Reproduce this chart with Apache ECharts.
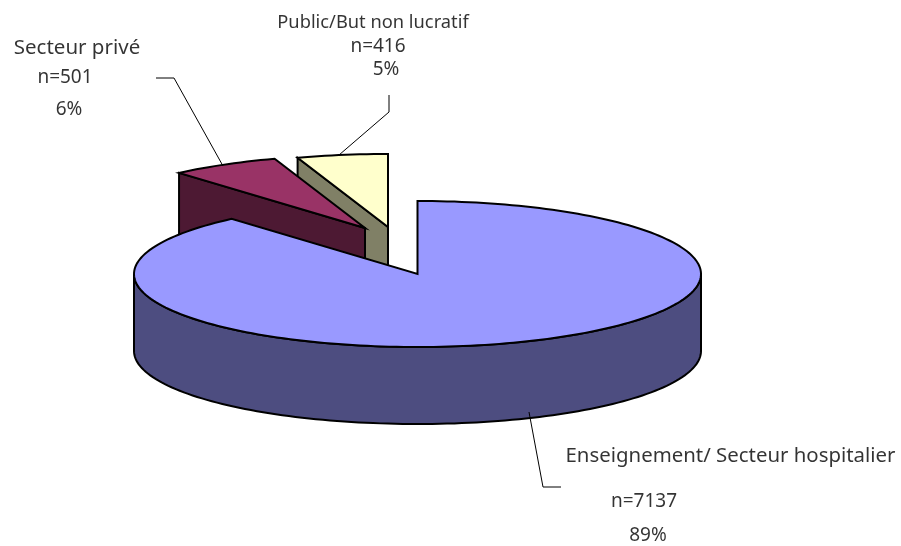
<!DOCTYPE html>
<html>
<head>
<meta charset="utf-8">
<style>
  html, body { margin: 0; padding: 0; background: #fff; }
  #chart { width: 901px; height: 546px; }
</style>
<script src="https://cdn.jsdelivr.net/npm/echarts@6/dist/echarts.min.js"></script>
</head>
<body>
<div id="chart"></div>
<script>
// values
const categories = ['Enseignement/ Secteur hospitalier', 'Secteur privé', 'Public/But non lucratif']
const counts = [7137, 501, 416]
const countLabels = ['n=7137', 'n=501', 'n=416']
const percentLabels = ['89%', '6%', '5%']

const topColors = ['#9999ff', '#993366', '#ffffcc']
const sideColors = ['#4d4d80', '#4d1933', '#808066']

// pie geometry, in page pixels
const radiusX = 283.5
const radiusY = 73
const depth = 77
const apexes = [[417.5, 274], [365, 228], [388, 227]]

// label layout: text lines [x, y] and the leader line
const labelPositions = [
  [[730.5, 456], [644, 502], [648, 536]],
  [[77, 48], [65, 78], [69, 110]],
  [[373, 23], [378, 47], [386, 70]]
]
const labelSizes = [
  [20.4, 19, 19],
  [20.5, 19, 19],
  [18.3, 19, 19]
]
const leaderLines = [
  [[529, 412], [543, 487], [561, 487]],
  [[156, 78], [174, 78], [223, 166]],
  [[389, 95], [389, 112], [339, 155]]
]

const total = counts.reduce((a, b) => a + b, 0)
const angleOf = (n) => (n / total) * Math.PI * 2

// slice start and end angles, clockwise from 12 o'clock
const sliceAngles = []
let acc = 0
counts.forEach((v) => {
  sliceAngles.push([acc, acc + angleOf(v)])
  acc += angleOf(v)
})

const rimPoint = (apex, t, dy) => [
  apex[0] + radiusX * Math.sin(t),
  apex[1] - radiusY * Math.cos(t) + dy
]

const arcPoints = (apex, from, to, dy) => {
  const pts = []
  const steps = Math.max(2, Math.ceil((Math.abs(to - from) / Math.PI) * 120))
  for (let i = 0; i <= steps; i++) {
    pts.push(rimPoint(apex, from + ((to - from) * i) / steps, dy))
  }
  return pts
}

const renderSlice = (params, api) => {
  const idx = api.value(0)
  const apex = apexes[idx]
  const [start, end] = sliceAngles[idx]
  const children = []
  const edge = { stroke: '#000', lineWidth: 2, lineJoin: 'miter' }
  const poly = (points, fill) => ({
    type: 'polygon',
    shape: { points: points.map((p) => api.coord(p)) },
    style: { fill, ...edge }
  })

  if (idx === 0) {
    // front wall of the big slice
    const front = arcPoints(apex, Math.PI / 2, Math.PI * 1.5, 0)
    const back = arcPoints(apex, Math.PI * 1.5, Math.PI / 2, depth)
    children.push(poly(front.concat(back), sideColors[idx]))
  } else {
    // cut face on the left side of the small slices
    const a = rimPoint(apex, start, 0)
    children.push(poly([a, apex, [apex[0], apex[1] + depth], [a[0], a[1] + depth]], sideColors[idx]))
  }
  children.push(poly([apex].concat(arcPoints(apex, start, end, 0)), topColors[idx]))

  return { type: 'group', children }
}

const chart = echarts.init(document.getElementById('chart'))

const textFont = '"Noto Sans", sans-serif'
const labelData = []
categories.forEach((name, i) => {
  const lines = [name, countLabels[i], percentLabels[i]]
  lines.forEach((text, j) => {
    labelData.push({ value: labelPositions[i][j], text, size: labelSizes[i][j] })
  })
})

chart.setOption({
  animation: false,
  backgroundColor: '#fff',
  grid: { left: 0, right: 0, top: 0, bottom: 0 },
  xAxis: { type: 'value', min: 0, max: 901, show: false },
  yAxis: { type: 'value', min: 0, max: 546, inverse: true, show: false },
  series: [
    {
      type: 'custom',
      coordinateSystem: 'cartesian2d',
      renderItem: renderSlice,
      // small slices first so the big one sits on top of them
      data: [[2], [1], [0]],
      encode: { x: 0, y: 0 },
      silent: true,
      z: 2
    },
    {
      type: 'lines',
      coordinateSystem: 'cartesian2d',
      polyline: true,
      silent: true,
      z: 3,
      lineStyle: { color: '#000', width: 1, opacity: 1 },
      data: leaderLines.map((coords) => ({ coords }))
    },
    {
      type: 'scatter',
      symbolSize: 0,
      silent: true,
      z: 4,
      data: labelData.map((d) => ({
        value: d.value,
        label: {
          show: true,
          position: 'inside',
          formatter: d.text,
          color: '#000',
          textBorderWidth: 0,
          fontFamily: textFont,
          fontSize: d.size
        }
      }))
    }
  ]
})
</script>
</body>
</html>
